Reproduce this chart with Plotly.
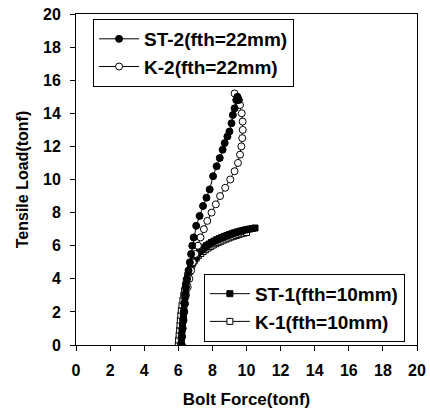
import plotly.graph_objects as go

# ST-2 (fth=22mm), filled circles
st2_x = [6.2, 6.22, 6.25, 6.3, 6.32, 6.36, 6.4, 6.45, 6.52, 6.6, 6.68, 6.75, 6.82, 6.9,
         7.05, 7.25, 7.45, 7.65, 7.84, 8.04, 8.25, 8.43, 8.6, 8.72, 8.88, 9.0, 9.12,
         9.2, 9.3, 9.4, 9.47, 9.55]
st2_y = [0.0, 0.5, 1.0, 1.5, 2.0, 2.5, 3.0, 3.5, 4.0, 4.5, 5.0, 5.5, 6.0, 6.5,
         7.2, 7.8, 8.4, 8.9, 9.4, 10.2, 10.8, 11.3, 11.8, 12.2, 12.6, 12.9, 13.4,
         13.9, 14.3, 14.8, 15.0, 14.8]

# K-2 (fth=22mm), open circles
k2_x = [6.2, 6.2, 6.25, 6.3, 6.35, 6.4, 6.45, 6.55, 6.65, 6.75, 6.85, 7.0, 7.15, 7.3,
        7.5, 7.7, 7.95, 8.2, 8.45, 8.75, 9.05, 9.3, 9.5, 9.62, 9.7, 9.75, 9.78, 9.77,
        9.72, 9.62, 9.5, 9.3]
k2_y = [0.0, 0.5, 1.0, 1.5, 2.0, 2.5, 3.0, 3.5, 4.0, 4.5, 5.0, 5.5, 6.0, 6.5,
        7.0, 7.5, 8.0, 8.5, 9.0, 9.5, 10.0, 10.5, 11.0, 11.5, 12.0, 12.5, 13.0, 13.5,
        14.0, 14.5, 14.9, 15.2]

# ST-1 (fth=10mm), filled squares
st1_x = [6.15, 6.18, 6.2, 6.22, 6.25, 6.28, 6.3, 6.33, 6.36, 6.4, 6.45, 6.5, 6.58, 6.66,
         6.75, 6.85, 6.95, 7.05, 7.15, 7.28, 7.4, 7.52, 7.65, 7.8, 7.95, 8.1, 8.25, 8.4,
         8.55, 8.7, 8.85, 9.0, 9.15, 9.3, 9.45, 9.6, 9.75, 9.9, 10.05, 10.2, 10.35, 10.5]
st1_y = [0.0, 0.3, 0.6, 0.9, 1.2, 1.5, 1.8, 2.1, 2.5, 2.9, 3.3, 3.7, 4.1, 4.45,
         4.75, 5.0, 5.2, 5.35, 5.5, 5.65, 5.78, 5.9, 6.0, 6.1, 6.2, 6.28, 6.36, 6.43,
         6.5, 6.56, 6.62, 6.68, 6.73, 6.78, 6.83, 6.87, 6.91, 6.95, 6.98, 7.01, 7.04, 7.07]

# K-1 (fth=10mm), open squares
k1_x = [6.0, 6.02, 6.05, 6.08, 6.1, 6.12, 6.15, 6.18, 6.22, 6.27, 6.32, 6.37, 6.42, 6.47,
        6.55, 6.63, 6.72, 6.82, 6.93, 7.05, 7.18, 7.32, 7.46, 7.6, 7.75, 7.9, 8.05, 8.2,
        8.35, 8.5, 8.65, 8.8, 8.95, 9.1, 9.25, 9.4, 9.55, 9.7, 9.85, 10.0]
k1_y = [0.0, 0.3, 0.6, 0.9, 1.2, 1.5, 1.8, 2.1, 2.4, 2.7, 3.0, 3.3, 3.6, 3.9,
        4.2, 4.45, 4.7, 4.9, 5.08, 5.25, 5.4, 5.53, 5.65, 5.76, 5.86, 5.95, 6.04, 6.12,
        6.2, 6.27, 6.34, 6.4, 6.46, 6.52, 6.57, 6.62, 6.67, 6.72, 6.76, 6.8]

names = ["ST-2(fth=22mm)", "K-2(fth=22mm)", "ST-1(fth=10mm)", "K-1(fth=10mm)"]
tick_vals = [0, 2, 4, 6, 8, 10, 12, 14, 16, 18, 20]
x_title = "Bolt Force(tonf)"
y_title = "Tensile Load(tonf)"

FONT = "Arial, Liberation Sans, sans-serif"

fig = go.Figure()

def add(x, y, name, symbol, fill, size, legend):
    fig.add_trace(go.Scatter(
        x=x, y=y, name=name, mode="lines+markers",
        line=dict(color="black", width=1),
        marker=dict(symbol=symbol, size=size, color=fill,
                    line=dict(color="black", width=1)),
        legend=legend,
    ))

add(k1_x, k1_y, names[3], "square", "white", 6, "legend2")
add(st1_x, st1_y, names[2], "square", "black", 6, "legend2")
add(k2_x, k2_y, names[1], "circle", "white", 7, "legend")
add(st2_x, st2_y, names[0], "circle", "black", 7, "legend")

axis_common = dict(
    range=[0, 20], tickvals=tick_vals, showgrid=False, zeroline=False,
    showline=True, linecolor="black", linewidth=1, mirror=True,
    ticks="outside", ticklen=5, tickcolor="black", tickwidth=1,
    automargin=False, ticklabeloverflow="allow",
    tickfont=dict(family=FONT, size=16, color="black", weight="bold"),
)

legend_font = dict(family=FONT, size=19, color="black", weight="bold")

fig.update_layout(
    width=430, height=414,
    margin=dict(l=76, r=13, t=14, b=69),
    paper_bgcolor="white", plot_bgcolor="white",
    font=dict(family=FONT, color="black"),
    xaxis=dict(**axis_common, ticklabelstandoff=6,
               title=dict(text=x_title, standoff=14,
                          font=dict(family=FONT, size=17, color="black", weight="bold"))),
    yaxis=dict(**axis_common, ticklabelstandoff=6,
               title=dict(text=y_title, standoff=10,
                          font=dict(family=FONT, size=16, color="black", weight="bold"))),
    legend=dict(x=0.05, y=0.985, xanchor="left", yanchor="top",
                bordercolor="black", borderwidth=1, bgcolor="white",
                traceorder="reversed", tracegroupgap=0, itemwidth=40,
                font=legend_font),
    legend2=dict(x=0.375, y=0.215, xanchor="left", yanchor="top",
                 bordercolor="black", borderwidth=1, bgcolor="white",
                 traceorder="reversed", tracegroupgap=0, itemwidth=40,
                 font=legend_font),
    showlegend=True,
)

fig.write_html("out.html", config={"displayModeBar": False},
               post_script="document.body.style.margin='0px';")
